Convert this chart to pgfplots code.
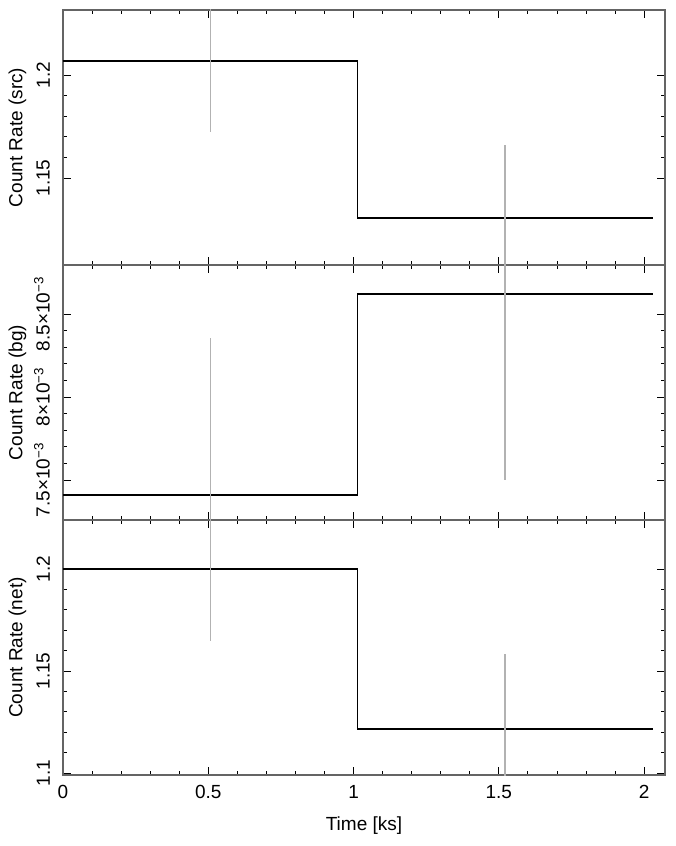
\documentclass[border=0pt]{standalone}
\usepackage{fontspec}
\setmainfont{Liberation Sans}
\usepackage{pgfplots}
\pgfplotsset{compat=1.18}
\definecolor{errgray}{RGB}{178,178,178}
\definecolor{framegray}{RGB}{100,100,100}
\newcommand{\pf}{\fontsize{19}{23}\selectfont}
\pgfplotsset{
  panel/.style={
    scale only axis, width=602pt, height=255pt,
    xmin=0, xmax=2.072,
    xtick={0,0.5,1,1.5,2}, minor x tick num=4,
    minor y tick num=4,
    tick align=inside, major tick length=8pt, minor tick length=4pt,
    xtick pos=both, ytick pos=both,
    axis line style={framegray, line width=1.6pt},
    every tick/.style={black, line width=0.8pt},
    /pgf/number format/assume math mode=true,
    tick label style={font=\pf},
    label style={font=\pf},
    yticklabel style={rotate=90, anchor=south, inner sep=2pt, yshift=11pt},
    xticklabel style={inner sep=2pt, yshift=-8pt},
    every axis y label/.style={at={(axis description cs:-0.0756,0.5)}, rotate=90, anchor=center, font=\pf},
    scaled y ticks=false,
    clip=true,
  },
  steps/.style={black, line width=1.5pt, const plot, no marks},
  errs/.style={errgray, line width=1.6pt, draw=none, no marks,
    error bars/.cd, y dir=both, y explicit, error mark=none,
    error bar style={errgray, line width=1.6pt}},
}
\begin{document}
\begin{tikzpicture}
% top panel: source
\begin{axis}[panel, at={(0,510pt)}, ymin=1.1078, ymax=1.2316,
  ytick={1.15,1.2}, yticklabels={1.15,1.2}, xticklabels={},
  ylabel={Count Rate (src)}]
\addplot[steps] coordinates {(0,1.2068) (1.014,1.1306) (2.031,1.1306)};
\addplot[errs] coordinates {(0.507,1.2068) +- (0,0.0345) (1.522,1.1306) +- (0,0.0354)};
\end{axis}
% middle panel: background
\begin{axis}[panel, at={(0,255pt)}, ymin=7.259e-3, ymax=8.795e-3,
  ytick={7.5e-3,8e-3,8.5e-3},
  yticklabels={7.5×10\textsuperscript{−3},8×10\textsuperscript{−3},8.5×10\textsuperscript{−3}},
  xticklabels={},
  ylabel={Count Rate (bg)}]
\addplot[steps] coordinates {(0,7.410e-3) (1.014,8.620e-3) (2.031,8.620e-3)};
\addplot[errs] coordinates {(0.507,7.410e-3) +- (0,0.945e-3) (1.522,8.620e-3) +- (0,1.12e-3)};
\end{axis}
% bottom panel: net
\begin{axis}[panel, at={(0,0)}, ymin=1.099, ymax=1.224,
  ytick={1.1,1.15,1.2}, yticklabels={1.1,1.15,1.2},
  xticklabels={0,0.5,1,1.5,2},
  xlabel={Time [ks]},
  xlabel style={at={(axis description cs:0.5,0)}, anchor=center, yshift=-51pt, font=\pf},
  ylabel={Count Rate (net)}]
\addplot[steps] coordinates {(0,1.2) (1.014,1.1216) (2.031,1.1216)};
\addplot[errs] coordinates {(0.507,1.2) +- (0,0.0353) (1.522,1.1216) +- (0,0.0367)};
\end{axis}
\path[draw=none] (-63pt,-71pt) rectangle (613pt,775pt);
\end{tikzpicture}
\end{document}
